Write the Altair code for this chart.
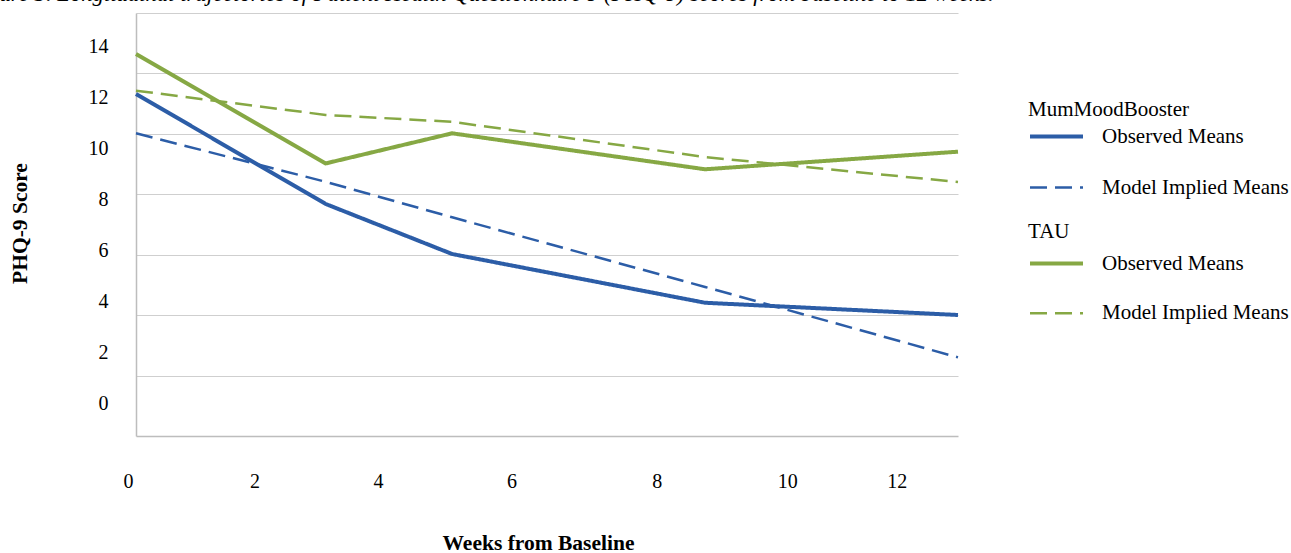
import altair as alt
import pandas as pd

# PHQ-9 means by week of assessment
weeks = [0, 3, 5, 9, 13]
mmb_observed = [12.12, 7.81, 5.85, 3.94, 3.46]
mmb_model = [10.58, 8.68, 7.29, 4.56, 1.80]
tau_observed = [13.69, 9.40, 10.58, 9.17, 9.86]
tau_model = [12.25, 11.30, 11.03, 9.65, 8.67]

measures = ["Observed Means", "Model Implied Means"]
x_ticks = [0, 2, 4, 6, 8, 10, 12]
y_ticks = [0, 2, 4, 6, 8, 10, 12, 14]

BLUE = "#2C5DA7"
GREEN = "#86A844"
FONT = "Liberation Serif"
GRID = "#CFCFCF"
AXIS_LINE = "#BDBDBD"

X_DOMAIN = [0, 13]
Y_DOMAIN = [-1.281, 15.294]
# horizontal rules split the plot height into seven equal bands
grid_values = [Y_DOMAIN[0] + k * (Y_DOMAIN[1] - Y_DOMAIN[0]) / 7 for k in range(1, 8)]

# per-label nudges of the week labels along the axis (pixels)
x_label_shift = {0: -8, 2: -8, 4: -11, 6: -4, 8: 15, 10: 19, 12: 2}


def long_frame(obs, model):
    rows = []
    for w, o, m in zip(weeks, obs, model):
        rows.append({"week": w, "score": o, "measure": measures[0]})
        rows.append({"week": w, "score": m, "measure": measures[1]})
    return pd.DataFrame(rows)


x_axis = alt.Axis(
    values=x_ticks, format="d", grid=False, ticks=False, tickSize=0,
    domain=True, domainColor=AXIS_LINE, domainWidth=1.5,
    labelFont=FONT, labelFontSize=20, labelColor="black", labelPadding=35,
    labelFlush=False, labelOverlap=False,
    labelOffset={
        "condition": [{"test": f"datum.value == {v}", "value": s} for v, s in x_label_shift.items()],
        "value": 0,
    },
    title="Weeks from Baseline", titleFont=FONT, titleFontSize=21.5,
    titleFontWeight="bold", titleColor="black",
    titleX=402, titleY=113, titleBaseline="alphabetic", titleAlign="center",
)

y_label_axis = alt.Axis(
    orient="left",
    values=y_ticks, format="d", grid=False, ticks=False, tickSize=0,
    domain=True, domainColor=AXIS_LINE, domainWidth=1.5,
    labelFont=FONT, labelFontSize=20, labelColor="black", labelPadding=28,
    labelFlush=False, labelOverlap=False,
    title="PHQ-9 Score", titleFont=FONT, titleFontSize=21.5,
    titleFontWeight="bold", titleColor="black",
    titleX=-110, titleY=210, titleAngle=270,
    titleBaseline="alphabetic", titleAlign="center",
)

y_grid_axis = alt.Axis(
    orient="right",
    values=grid_values, grid=True, gridColor=GRID, gridWidth=1,
    labels=False, ticks=False, domain=False, title="",
)

x_enc = alt.X("week:Q", scale=alt.Scale(domain=X_DOMAIN, nice=False, zero=False), axis=x_axis)
y_scale = alt.Scale(domain=Y_DOMAIN, nice=False, zero=False)


def group_legend(title, top, title_pad, row_pad):
    return alt.Legend(
        title=title, orient="none", legendX=892, legendY=top, direction="vertical",
        symbolType="stroke", symbolSize=2809, clipHeight=30,
        rowPadding=row_pad, titlePadding=title_pad, labelOffset=17, padding=0,
        titleFont=FONT, titleFontSize=21, titleFontWeight="normal", titleColor="black",
        labelFont=FONT, labelFontSize=21, labelColor="black", labelLimit=0, titleLimit=0,
    )


def group_lines(df, colour, legend, y_axis):
    return alt.Chart(df).mark_line(strokeJoin="round").encode(
        x=x_enc,
        y=alt.Y("score:Q", scale=y_scale, axis=y_axis),
        color=alt.Color("measure:N", scale=alt.Scale(domain=measures, range=[colour, colour]), legend=legend),
        strokeDash=alt.StrokeDash("measure:N", scale=alt.Scale(domain=measures, range=[[1, 0], [17, 8]]), legend=legend),
        strokeWidth=alt.StrokeWidth("measure:N", scale=alt.Scale(domain=measures, range=[4, 2.5]), legend=legend),
    )


mmb = group_lines(long_frame(mmb_observed, mmb_model), BLUE,
                  group_legend("MumMoodBooster", 85.7, 1.8, 21), y_label_axis)
tau = group_lines(long_frame(tau_observed, tau_model), GREEN,
                  group_legend("TAU", 208.1, 6.4, 19.7), y_grid_axis)

chart = (
    alt.layer(tau, mmb)
    .resolve_scale(color="independent", strokeDash="independent", strokeWidth="independent")
    .resolve_axis(y="independent")
    .properties(
        width=822, height=423,
        autosize=alt.AutoSizeParams(type="none"),
        padding={"left": 136, "top": 13, "right": 333, "bottom": 117},
        background="white",
        title=alt.TitleParams(
            text="Figure 3. Longitudinal trajectories of Patient Health Questionnaire 9 (PHQ-9) scores from baseline to 12 weeks.",
            anchor="start", frame="group", orient="top", offset=0, dx=-168, dy=11,
            font=FONT, fontSize=22.7, fontStyle="italic", fontWeight="normal",
            color="black", baseline="alphabetic",
        ),
    )
    .configure_view(strokeWidth=0)
)

chart.save("out.html", embed_options={"renderer": "svg", "actions": False})
